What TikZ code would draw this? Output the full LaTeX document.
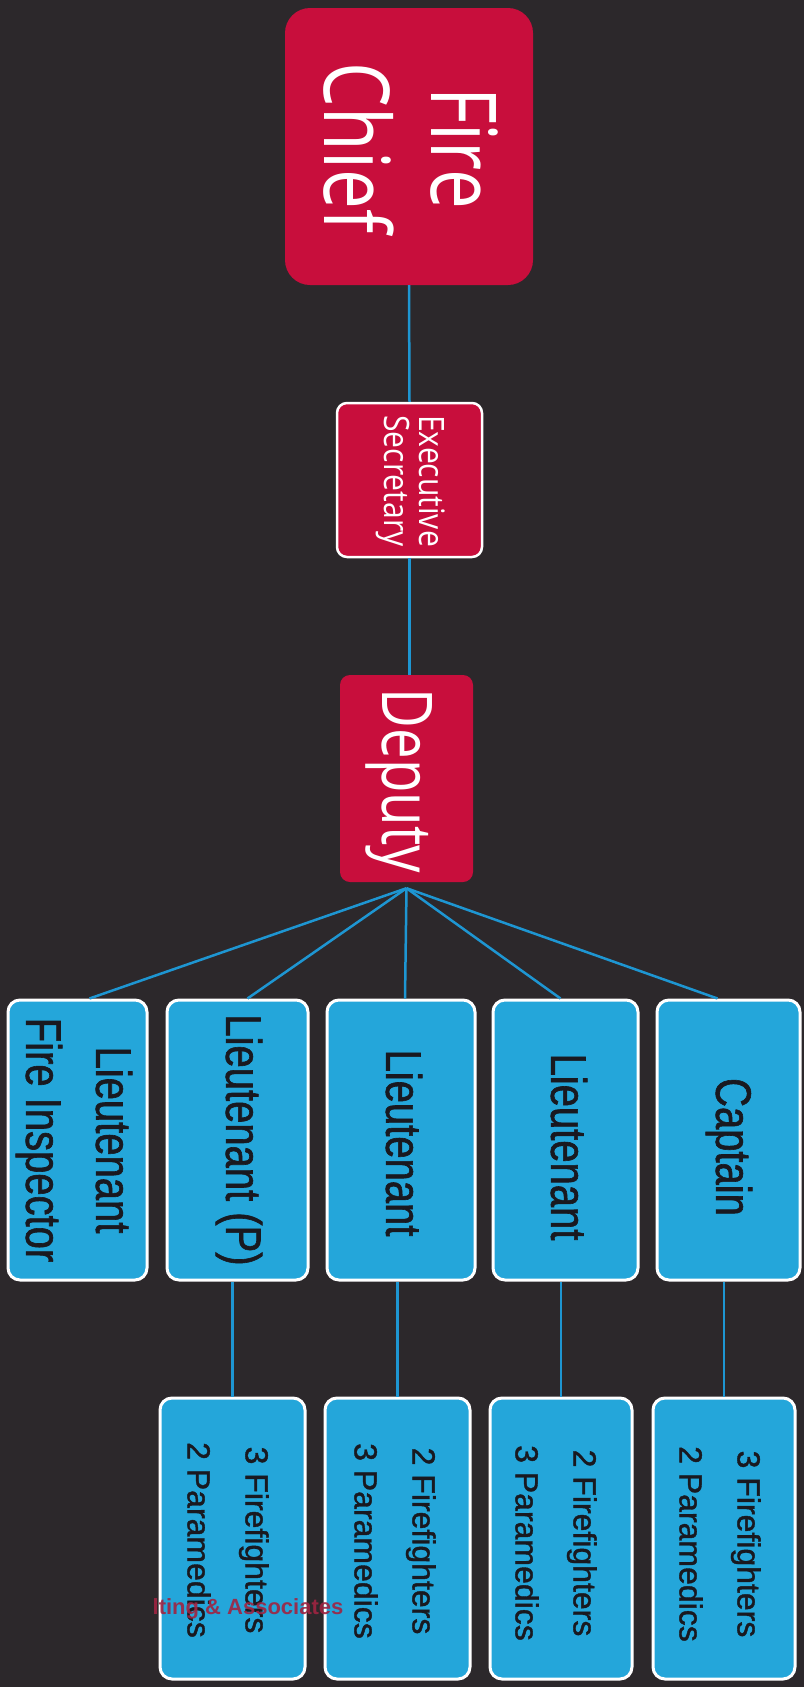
\documentclass[tikz,border=0pt]{standalone}
\usepackage{fontspec}
\newfontfamily\topfont[FakeStretch=0.78]{Open Sans}
\newfontfamily\secfont[FakeStretch=0.86]{Open Sans}
\newfontfamily\midfont[FakeStretch=0.8,FakeBold=1.2]{Liberation Sans}
\newfontfamily\lowfont[FakeBold=1.2]{Liberation Sans}
\newfontfamily\wmfont{Liberation Sans}
\definecolor{bgdark}{RGB}{44,40,43}
\definecolor{firered}{RGB}{200,14,60}
\definecolor{boxblue}{RGB}{36,166,218}
\definecolor{linkblue}{RGB}{30,150,210}
\definecolor{inkdark}{RGB}{25,25,32}
\definecolor{wmred}{RGB}{160,36,66}
\tikzset{
  redbox/.style={rectangle, fill=firered, inner sep=0pt, rounded corners=10pt},
  execbox/.style={rectangle, fill=firered, draw=white, line width=2.5pt, inner sep=0pt, rounded corners=10pt},
  bluebox/.style={rectangle, fill=boxblue, draw=white, line width=3pt, inner sep=0pt, rounded corners=12pt},
  rtext/.style={rotate=-90, inner sep=0pt, align=center},
  whitetext/.style={rtext, text=white},
  darktext/.style={rtext, text=inkdark},
  midtext/.style={darktext, font={\midfont\fontsize{50}{70}\selectfont}},
  lowtext/.style={darktext, font={\lowfont\fontsize{32}{58}\selectfont}},
  link/.style={draw=linkblue, line width=2.5pt}
}
\begin{document}
\begin{tikzpicture}[x=1pt,y=-1pt]
\useasboundingbox (0,0) rectangle (804,1687);
\fill[bgdark] (0,0) rectangle (804,1687);

% top chain
\node[redbox, rounded corners=25pt, minimum width=248pt, minimum height=277pt] (chief) at (409,146.5) {};
\node[whitetext, font={\topfont\fontsize{91}{107}\selectfont}] (chiefT) at (411,148) {Fire\\Chief};

\node[execbox, minimum width=145pt, minimum height=154pt] (exec) at (409.5,480) {};
\node[whitetext, font={\secfont\fontsize{35}{35}\selectfont}] (execT) at (411,481) {Executive\\Secretary};

\node[redbox, minimum width=133pt, minimum height=207pt] (deputy) at (406.5,778.5) {};
\node[whitetext, font={\topfont\fontsize{70}{84}\selectfont}] (deputyT) at (399,781) {Deputy};

% level 2
\node[bluebox, minimum width=139pt, minimum height=280pt] (l1) at (77.5,1140) {};
\node[bluebox, minimum width=141pt, minimum height=280pt] (l2) at (237.5,1140) {};
\node[bluebox, minimum width=148pt, minimum height=280pt] (l3) at (401,1140) {};
\node[bluebox, minimum width=145pt, minimum height=280pt] (l4) at (565.5,1140) {};
\node[bluebox, minimum width=143pt, minimum height=280pt] (l5) at (728.5,1140) {};
\node[midtext] (l1T) at (74,1140) {Lieutenant\\Fire Inspector};
\node[midtext] (l2T) at (239,1140) {Lieutenant (P)};
\node[midtext] (l3T) at (404,1143) {Lieutenant};
\node[midtext] (l4T) at (569,1147) {Lieutenant};
\node[midtext] (l5T) at (729,1147) {Captain};

% level 3
\node[bluebox, minimum width=145pt, minimum height=281pt] (a) at (232.5,1538.5) {};
\node[bluebox, minimum width=145pt, minimum height=281pt] (b) at (397.5,1538.5) {};
\node[bluebox, minimum width=142pt, minimum height=281pt] (c) at (561,1538.5) {};
\node[bluebox, minimum width=142pt, minimum height=281pt] (d) at (724,1538.5) {};
\node[lowtext] (aT) at (228,1540) {3 Firefighters\\2 Paramedics};
\node[lowtext] (bT) at (395,1541) {2 Firefighters\\3 Paramedics};
\node[lowtext] (cT) at (556,1543) {2 Firefighters\\3 Paramedics};
\node[lowtext] (dT) at (720,1544) {3 Firefighters\\2 Paramedics};

% connectors
\coordinate (hub) at ([yshift=-6pt]deputy.south);
\path[link] (chief.south) -- (exec.north);
\path[link] (exec.south) -- (exec.south |- deputy.north);
\path[link] (hub) -- ([xshift=12pt]l1.north);
\path[link] (hub) -- ([xshift=10pt]l2.north);
\path[link] (hub) -- ([xshift=4pt]l3.north);
\path[link] (hub) -- ([xshift=-5pt]l4.north);
\path[link] (hub) -- ([xshift=-11pt]l5.north);
\path[link] (a.north) -- (a.north |- l2.south);
\path[link] (b.north) -- (b.north |- l3.south);
\path[link] (c.north) -- (c.north |- l4.south);
\path[link] (d.north) -- (d.north |- l5.south);

% scan watermark
\node[text=wmred, opacity=0.9, inner sep=0pt, font={\wmfont\bfseries\fontsize{22}{24}\selectfont}] (wm) at (248,1609) {lting \& Associates};
\end{tikzpicture}
\end{document}
